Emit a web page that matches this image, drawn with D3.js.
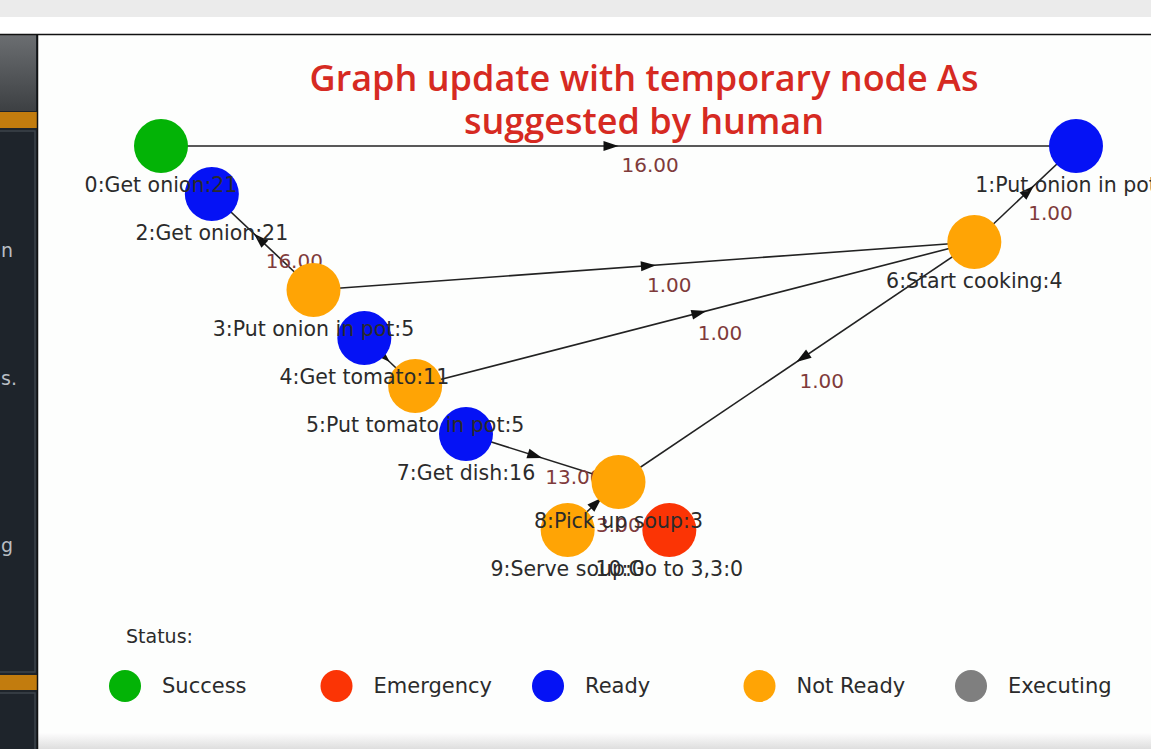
<!DOCTYPE html>
<html>
<head>
<meta charset="utf-8">
<script src="https://cdn.jsdelivr.net/npm/d3@7"></script>
<style>
  html, body { margin: 0; padding: 0; background: #fff; overflow: hidden; }
  svg { display: block; }
</style>
</head>
<body>
<div class="chart"></div>
<script>
// nodes of the task graph
var nodeLabels = [`0:Get onion:21`, `1:Put onion in pot:5`, `2:Get onion:21`, `3:Put onion in pot:5`,
    `4:Get tomato:11`, `5:Put tomato in pot:5`, `6:Start cooking:4`, `7:Get dish:16`,
    `8:Pick up soup:3`, `9:Serve soup:0`, `10:Go to 3,3:0`];
var nodeStatus = [`Success`, `Ready`, `Ready`, `Not Ready`, `Ready`, `Not Ready`,
    `Not Ready`, `Ready`, `Not Ready`, `Not Ready`, `Emergency`];
// layout grid position (column, row)
var nodeCol = [0, 18, 1, 3, 4, 5, 16, 6, 9, 8, 10];
var nodeRow = [0, 0, 1, 3, 4, 5, 2, 6, 7, 8, 8];

// edges
var edgeSource = [0, 3, 3, 4, 5, 6, 6, 7, 9];
var edgeTarget = [1, 2, 6, 5, 6, 1, 8, 8, 8];
var edgeWeights = [`16.00`, `16.00`, `1.00`, `1.00`, `1.00`, `1.00`, `1.00`, `13.00`, `3.00`];

// legend
var statusNames = [`Success`, `Emergency`, `Ready`, `Not Ready`, `Executing`];
var statusColors = [`#03b306`, `#fb3405`, `#0512f5`, `#ffa405`, `#7f7f7f`];

var titleLines = [`Graph update with temporary node As`, `suggested by human`];

var fullWidth = 1151;
var fullHeight = 749;
var font = `"DejaVu Sans", sans-serif`;

var svg = d3.select(`.chart`)
    .append(`svg`)
    .attr(`width`, fullWidth)
    .attr(`height`, fullHeight)
    .attr(`viewBox`, `0 0 ${fullWidth} ${fullHeight}`);

var defs = svg.append(`defs`);
var g1 = defs.append(`linearGradient`).attr(`id`, `topgrad`).attr(`x1`, 0).attr(`y1`, 0).attr(`x2`, 0).attr(`y2`, 1);
g1.append(`stop`).attr(`offset`, `0%`).attr(`stop-color`, `#6b6e71`);
g1.append(`stop`).attr(`offset`, `100%`).attr(`stop-color`, `#3d4043`);
var g2 = defs.append(`linearGradient`).attr(`id`, `botgrad`).attr(`x1`, 0).attr(`y1`, 0).attr(`x2`, 0).attr(`y2`, 1);
g2.append(`stop`).attr(`offset`, `0%`).attr(`stop-color`, `#fdfdfd`);
g2.append(`stop`).attr(`offset`, `100%`).attr(`stop-color`, `#dedede`);

// screen frame around the figure
svg.append(`rect`).attr(`x`, 0).attr(`y`, 0).attr(`width`, fullWidth).attr(`height`, 17).style(`fill`, `#ebebeb`);
svg.append(`rect`).attr(`x`, 0).attr(`y`, 17).attr(`width`, fullWidth).attr(`height`, 18).style(`fill`, `#ffffff`);
svg.append(`rect`).attr(`x`, 38).attr(`y`, 35).attr(`width`, fullWidth - 38).attr(`height`, fullHeight - 35).style(`fill`, `#fdfefd`);
svg.append(`rect`).attr(`x`, 38).attr(`y`, 733).attr(`width`, fullWidth - 38).attr(`height`, 16).style(`fill`, `url(#botgrad)`);

var side = svg.append(`g`);
side.append(`rect`).attr(`x`, 0).attr(`y`, 35).attr(`width`, 37).attr(`height`, fullHeight - 35).style(`fill`, `#1e242b`);
side.append(`rect`).attr(`x`, 0).attr(`y`, 35).attr(`width`, 36).attr(`height`, 76).style(`fill`, `url(#topgrad)`);
side.append(`rect`).attr(`x`, 0).attr(`y`, 112).attr(`width`, 37).attr(`height`, 16).style(`fill`, `#c27c0e`);
side.append(`rect`).attr(`x`, 0).attr(`y`, 675).attr(`width`, 37).attr(`height`, 15).style(`fill`, `#c27c0e`);
side.append(`rect`).attr(`x`, -2).attr(`y`, 131).attr(`width`, 37).attr(`height`, 541)
    .style(`fill`, `none`).style(`stroke`, `#3c434b`).style(`stroke-width`, 1.5);
side.append(`rect`).attr(`x`, -2).attr(`y`, 693).attr(`width`, 37).attr(`height`, 80)
    .style(`fill`, `none`).style(`stroke`, `#3c434b`).style(`stroke-width`, 1.5);
// fragments of the sidebar text (cut off by the frame, as in the screenshot)
[[`n`, 257], [`s.`, 385], [`g`, 552]].forEach(d => {
    side.append(`text`).attr(`x`, 1).attr(`y`, d[1])
        .style(`font-family`, font).style(`font-size`, `19px`).style(`fill`, `#b9bec4`)
        .text(d[0]);
});
svg.append(`line`).attr(`x1`, 0).attr(`x2`, fullWidth).attr(`y1`, 34.5).attr(`y2`, 34.5)
    .style(`stroke`, `#111`).style(`stroke-width`, 1.5);
svg.append(`line`).attr(`x1`, 37.5).attr(`x2`, 37.5).attr(`y1`, 34).attr(`y2`, fullHeight)
    .style(`stroke`, `#111`).style(`stroke-width`, 1.5);

// title
svg.append(`g`).selectAll(`text`)
    .data(titleLines)
    .enter()
    .append(`text`)
    .attr(`x`, 644)
    .attr(`y`, (d, i) => 77 + i * 43)
    .attr(`dominant-baseline`, `central`)
    .style(`text-anchor`, `middle`)
    .style(`font-family`, `"Open Sans", sans-serif`)
    .style(`font-weight`, 600)
    .style(`font-size`, `36px`)
    .style(`fill`, `#d62a22`)
    .text(d => d);

var xScale = d3.scaleLinear().domain([0, 18]).range([161, 1076]);
var yScale = d3.scaleLinear().domain([0, 8]).range([146, 530]);
var colorScale = d3.scaleOrdinal().domain(statusNames).range(statusColors);

var nodes = nodeLabels.map((l, i) => ({
    id: i, label: l, status: nodeStatus[i],
    x: xScale(nodeCol[i]), y: yScale(nodeRow[i])
}));
var edges = edgeSource.map((s, i) => {
    var a = nodes[s], b = nodes[edgeTarget[i]];
    var len = Math.hypot(b.x - a.x, b.y - a.y);
    return {a: a, b: b, w: edgeWeights[i], mx: (a.x + b.x) / 2, my: (a.y + b.y) / 2,
        ux: (b.x - a.x) / len, uy: (b.y - a.y) / len};
});

var graph = svg.append(`g`);

// edge lines
graph.selectAll(`.edge`)
    .data(edges)
    .enter()
    .append(`line`)
    .attr(`class`, `edge`)
    .attr(`x1`, d => d.a.x)
    .attr(`y1`, d => d.a.y)
    .attr(`x2`, d => d.b.x)
    .attr(`y2`, d => d.b.y)
    .style(`stroke`, `#222`)
    .style(`stroke-width`, 1.6);

// arrow heads near the middle of each edge
graph.selectAll(`.arrow`)
    .data(edges)
    .enter()
    .append(`path`)
    .attr(`class`, `arrow`)
    .attr(`d`, d => {
        var shift = d.uy < 0 ? 12 : 0;
        var tx = d.mx + d.ux * shift, ty = d.my + d.uy * shift;
        var bx = tx - d.ux * 15, by = ty - d.uy * 15;
        var px = -d.uy * 5, py = d.ux * 5;
        return `M${tx},${ty}L${bx + px},${by + py}L${bx - px},${by - py}Z`;
    })
    .style(`fill`, `#111`);

// edge weight labels
graph.selectAll(`.wlabel`)
    .data(edges)
    .enter()
    .append(`text`)
    .attr(`class`, `wlabel`)
    .attr(`x`, d => d.mx + 3)
    .attr(`y`, d => d.my + 19)
    .attr(`dominant-baseline`, `central`)
    .style(`font-family`, font)
    .style(`font-size`, `20px`)
    .style(`fill`, `#7f3b3b`)
    .text(d => d.w);

// nodes
graph.selectAll(`.node`)
    .data(nodes)
    .enter()
    .append(`circle`)
    .attr(`class`, `node`)
    .attr(`cx`, d => d.x)
    .attr(`cy`, d => d.y)
    .attr(`r`, 27)
    .style(`fill`, d => colorScale(d.status));

// node labels
graph.selectAll(`.nlabel`)
    .data(nodes)
    .enter()
    .append(`text`)
    .attr(`class`, `nlabel`)
    .attr(`x`, d => d.x)
    .attr(`y`, d => d.y + 39)
    .attr(`dominant-baseline`, `central`)
    .style(`text-anchor`, `middle`)
    .style(`font-family`, font)
    .style(`font-size`, `20.5px`)
    .style(`fill`, `#2b2b2b`)
    .text(d => d.label);

// legend
var legendX = d3.scaleLinear().domain([0, statusNames.length - 1]).range([125, 971]);
var legend = svg.append(`g`);
legend.append(`text`)
    .attr(`x`, 126)
    .attr(`y`, 636)
    .attr(`dominant-baseline`, `central`)
    .style(`font-family`, font)
    .style(`font-size`, `19px`)
    .style(`fill`, `#2b2b2b`)
    .text(`Status:`);
var items = legend.selectAll(`.item`)
    .data(statusNames)
    .enter()
    .append(`g`)
    .attr(`class`, `item`)
    .attr(`transform`, (d, i) => `translate(${legendX(i)}, 686)`);
items.append(`circle`)
    .attr(`r`, 16)
    .style(`fill`, d => colorScale(d));
items.append(`text`)
    .attr(`x`, 37)
    .attr(`dominant-baseline`, `central`)
    .style(`font-family`, font)
    .style(`font-size`, `21px`)
    .style(`fill`, `#2b2b2b`)
    .text(d => d);
</script>
</body>
</html>
